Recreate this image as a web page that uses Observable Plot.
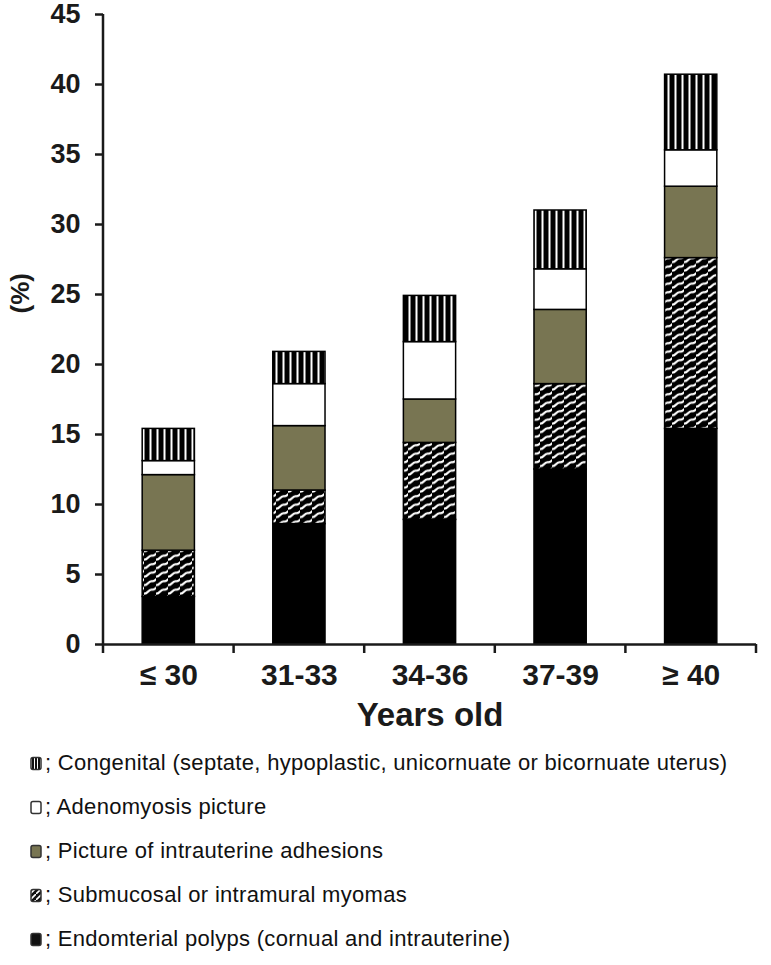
<!DOCTYPE html>
<html>
<head>
<meta charset="utf-8">
<script src="https://cdn.jsdelivr.net/npm/d3@7"></script>
<script src="https://cdn.jsdelivr.net/npm/@observablehq/plot@0.6"></script>
<style>
  body { margin: 0; background: white; font-family: "Liberation Sans", Arial, sans-serif; }
  #legend { margin-top: 0px; }
  .row { height: 44px; display: flex; align-items: center; padding-left: 30px; font-size: 22px; letter-spacing: 0.3px; color: #111; }
  .row svg { margin-right: 3px; }
</style>
</head>
<body>
<svg width="0" height="0" style="position:absolute">
  <defs>
    <pattern id="vstripe" patternUnits="userSpaceOnUse" width="7" height="10">
      <rect width="7" height="10" fill="black"/>
      <rect x="2.5" width="2" height="10" fill="white"/>
    </pattern>
    <pattern id="vstripeS" patternUnits="userSpaceOnUse" width="3" height="10">
      <rect width="3" height="10" fill="#111"/>
      <rect x="1" width="1" height="10" fill="white"/>
    </pattern>
    <pattern id="hatch" patternUnits="userSpaceOnUse" width="12" height="8.5">
      <rect width="12" height="8.5" fill="black"/>
      <path d="M-1,7.2 Q2,7.6 4,5.2 T8,3.2 T13,0.6" stroke="white" stroke-width="2.2" fill="none"/>
    </pattern>
    <pattern id="hatchS" patternUnits="userSpaceOnUse" width="6" height="6">
      <rect width="6" height="6" fill="#111"/>
      <path d="M0,6 L6,0" stroke="white" stroke-width="1.6"/>
    </pattern>
  </defs>
</svg>
<div id="chart"></div>
<div id="legend"></div>
<script>
const categories = ["≤ 30", "31-33", "34-36", "37-39", "≥ 40"];
const seriesNames = [
  "Endomterial polyps (cornual and intrauterine)",
  "Submucosal or intramural myomas",
  "Picture of intrauterine adhesions",
  "Adenomyosis picture",
  "Congenital (septate, hypoplastic, unicornuate or bicornuate uterus)"
];
const polyps      = [3.4, 8.6, 8.9, 12.5, 15.4];
const myomas      = [3.3, 2.4, 5.5, 6.1, 12.2];
const adhesions   = [5.4, 4.6, 3.1, 5.3, 5.1];
const adenomyosis = [1.0, 3.0, 4.1, 2.9, 2.6];
const congenital  = [2.3, 2.3, 3.3, 4.2, 5.4];
const yTicks = [0, 5, 10, 15, 20, 25, 30, 35, 40, 45];
const fills = ["black", "url(#hatch)", "#787552", "white", "url(#vstripe)"];
const legendFills = ["#111", "url(#hatchS)", "#787552", "white", "url(#vstripeS)"];

const seriesValues = [polyps, myomas, adhesions, adenomyosis, congenital];
const data = [];
categories.forEach((c, i) => {
  seriesNames.forEach((s, j) => data.push({age: c, type: s, value: seriesValues[j][i]}));
});

const plot = Plot.plot({
  width: 771,
  height: 741,
  marginLeft: 103,
  marginRight: 15,
  marginTop: 14,
  marginBottom: 97,
  style: {fontFamily: "Liberation Sans, Arial, sans-serif", color: "#1a1a1a", background: "white"},
  x: {domain: categories, paddingInner: 0.6, paddingOuter: 0.3, round: false, label: null},
  y: {domain: [0, 45], label: null},
  color: {domain: seriesNames, range: fills},
  marks: [
    Plot.barY(data, {x: "age", y: "value", fill: "type", stroke: "black", strokeWidth: 1.5}),
    Plot.ruleY([0], {stroke: "#1a1a1a", strokeWidth: 2.5}),
    Plot.axisY({ticks: yTicks, tickSize: 8, tickPadding: 15, fontSize: 27, fontWeight: "bold", strokeWidth: 2.5, label: null}),
    Plot.axisX({tickSize: 0, tickPadding: 19, fontSize: 30, fontWeight: "bold", label: null}),
    Plot.text(["(%)"], {frameAnchor: "left", dx: -83, dy: -16, rotate: -90, fontSize: 26, fontWeight: "bold", fill: "#1a1a1a"}),
    Plot.text(["Years old"], {frameAnchor: "bottom", dy: 81, fontSize: 33, fontWeight: "bold", fill: "#1a1a1a"})
  ]
});

// axis line and category boundary ticks, positioned through Plot's scales
const xs = plot.scale("x"), ys = plot.scale("y");
const svg = d3.select(plot);
const x0 = xs.range[0];
const y0 = ys.apply(0), yTop = ys.apply(45);
svg.append("line").attr("x1", x0).attr("x2", x0).attr("y1", yTop).attr("y2", y0)
  .attr("stroke", "#1a1a1a").attr("stroke-width", 2.5);
const starts = categories.map(c => xs.apply(c));
const step = (starts[starts.length - 1] - starts[0]) / (categories.length - 1);
const gap = (step - xs.bandwidth) / 2;
const bounds = starts.map(s => s - gap).concat([starts[starts.length - 1] + xs.bandwidth + gap]);
svg.append("g").selectAll("line").data(bounds).join("line")
  .attr("x1", d => d).attr("x2", d => d).attr("y1", y0).attr("y2", y0 + 9)
  .attr("stroke", "#1a1a1a").attr("stroke-width", 2.5);

document.getElementById("chart").append(plot);

const legend = document.getElementById("legend");
[4, 3, 2, 1, 0].forEach(j => {
  const row = document.createElement("div");
  row.className = "row";
  row.innerHTML = `<svg width="12" height="15"><rect x="1" y="1.5" width="10" height="12" rx="2" fill="${legendFills[j]}" stroke="#333" stroke-width="1.5"/></svg><span>${j === 4 ? " ; " : "; "}${seriesNames[j]}</span>`;
  legend.append(row);
});
</script>
</body>
</html>
